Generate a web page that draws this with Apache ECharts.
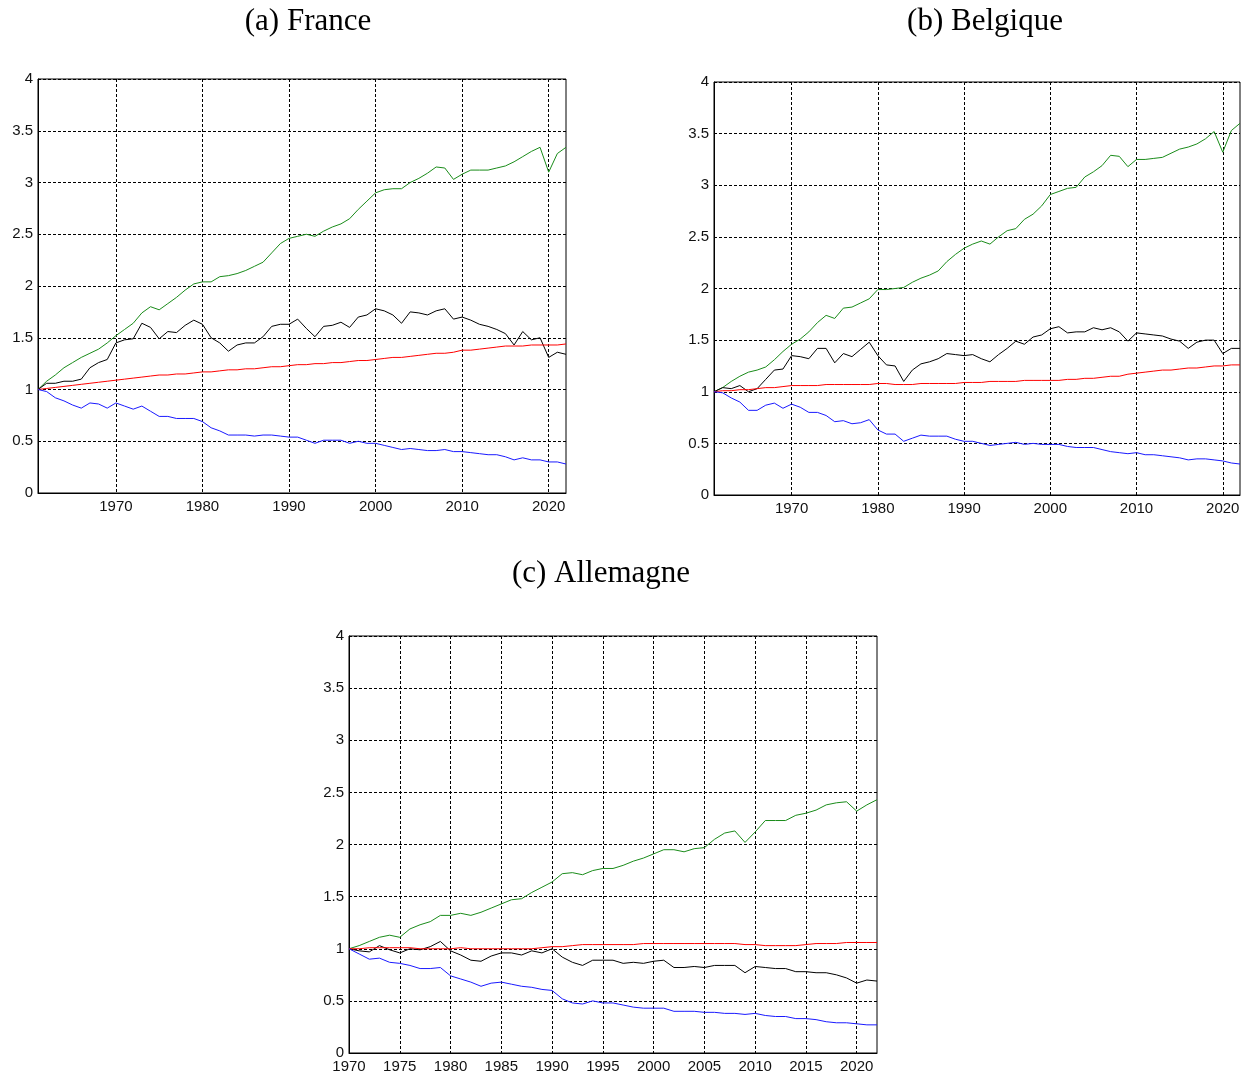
<!DOCTYPE html>
<html>
<head>
<meta charset="utf-8">
<script src="https://cdn.jsdelivr.net/npm/echarts@6/dist/echarts.min.js"></script>
<style>
html,body{margin:0;padding:0;background:#fff;}
#main{width:1246px;height:1074px;}
</style>
</head>
<body>
<div id="main"></div>
<script>
// ---------- Data ----------
function yearRange(a, b) { var r = []; for (var y = a; y <= b; y++) r.push(String(y)); return r; }
var yearsFR = yearRange(1961, 2022);
var yearsBE = yearRange(1961, 2022);
var yearsDE = yearRange(1970, 2022);

var yTicks = ['0', '0.5', '1', '1.5', '2', '2.5', '3', '3.5', '4'];

var titles = ['(a) France', '(b) Belgique', '(c) Allemagne'];

// France
var frGreen = [1.00,1.08,1.14,1.21,1.26,1.31,1.35,1.39,1.45,1.52,
  1.58,1.64,1.74,1.80,1.77,1.83,1.89,1.96,2.02,2.04,
  2.04,2.09,2.10,2.12,2.15,2.19,2.23,2.32,2.41,2.46,
  2.48,2.50,2.48,2.53,2.57,2.60,2.65,2.74,2.82,2.90,
  2.93,2.94,2.94,3.00,3.04,3.09,3.15,3.14,3.03,3.08,
  3.12,3.12,3.12,3.14,3.16,3.20,3.25,3.30,3.34,3.10,
  3.28,3.34];
var frBlack = [1.00,1.06,1.06,1.08,1.08,1.10,1.21,1.26,1.29,1.45,
  1.48,1.49,1.64,1.60,1.49,1.56,1.55,1.62,1.67,1.63,
  1.50,1.45,1.37,1.43,1.45,1.45,1.51,1.61,1.63,1.63,
  1.68,1.59,1.51,1.61,1.62,1.65,1.60,1.70,1.72,1.78,
  1.76,1.72,1.64,1.75,1.74,1.72,1.76,1.78,1.68,1.70,
  1.67,1.63,1.61,1.58,1.54,1.43,1.56,1.48,1.50,1.31,
  1.36,1.34];
var frRed = [1.00,1.01,1.02,1.03,1.04,1.05,1.06,1.07,1.08,1.09,
  1.10,1.11,1.12,1.13,1.14,1.14,1.15,1.15,1.16,1.17,
  1.17,1.18,1.19,1.19,1.20,1.20,1.21,1.22,1.22,1.23,
  1.24,1.24,1.25,1.25,1.26,1.26,1.27,1.28,1.28,1.29,
  1.30,1.31,1.31,1.32,1.33,1.34,1.35,1.35,1.36,1.38,
  1.38,1.39,1.40,1.41,1.42,1.42,1.42,1.43,1.43,1.43,
  1.43,1.44];
var frBlue = [1.00,0.98,0.92,0.89,0.85,0.82,0.87,0.86,0.82,0.87,
  0.84,0.81,0.84,0.79,0.74,0.74,0.72,0.72,0.72,0.69,
  0.63,0.60,0.56,0.56,0.56,0.55,0.56,0.56,0.55,0.54,
  0.54,0.51,0.48,0.51,0.51,0.51,0.48,0.50,0.48,0.48,
  0.46,0.44,0.42,0.43,0.42,0.41,0.41,0.42,0.40,0.40,
  0.39,0.38,0.37,0.37,0.35,0.32,0.34,0.32,0.32,0.30,
  0.30,0.28];

// Belgique
var beGreen = [1.00,1.04,1.10,1.15,1.19,1.21,1.24,1.31,1.39,1.46,
  1.51,1.58,1.67,1.74,1.71,1.81,1.82,1.86,1.90,1.99,
  1.99,2.00,2.01,2.06,2.10,2.13,2.17,2.26,2.33,2.39,
  2.43,2.46,2.43,2.50,2.56,2.58,2.67,2.72,2.80,2.91,
  2.94,2.97,2.98,3.08,3.13,3.19,3.29,3.28,3.18,3.25,
  3.25,3.26,3.27,3.31,3.35,3.37,3.40,3.45,3.52,3.32,
  3.53,3.60];
var beBlack = [1.00,1.04,1.03,1.06,1.00,1.03,1.12,1.21,1.22,1.35,
  1.34,1.32,1.42,1.42,1.28,1.37,1.34,1.41,1.48,1.35,
  1.26,1.25,1.10,1.21,1.27,1.29,1.32,1.37,1.36,1.35,
  1.36,1.32,1.29,1.36,1.42,1.49,1.46,1.53,1.55,1.61,
  1.63,1.57,1.58,1.58,1.62,1.60,1.62,1.58,1.49,1.57,
  1.56,1.55,1.54,1.51,1.49,1.42,1.48,1.50,1.50,1.37,
  1.42,1.42];
var beRed = [1.00,1.01,1.01,1.02,1.02,1.03,1.04,1.04,1.05,1.06,
  1.06,1.06,1.06,1.07,1.07,1.07,1.07,1.07,1.07,1.08,
  1.08,1.07,1.07,1.07,1.08,1.08,1.08,1.08,1.08,1.09,
  1.09,1.09,1.10,1.10,1.10,1.10,1.11,1.11,1.11,1.11,
  1.11,1.12,1.12,1.13,1.13,1.14,1.15,1.15,1.17,1.18,
  1.19,1.20,1.21,1.21,1.22,1.23,1.23,1.24,1.25,1.25,
  1.26,1.26];
var beBlue = [1.00,0.99,0.94,0.90,0.82,0.82,0.87,0.89,0.84,0.88,
  0.85,0.80,0.80,0.77,0.71,0.72,0.69,0.70,0.73,0.63,
  0.59,0.59,0.52,0.55,0.58,0.57,0.57,0.57,0.54,0.52,
  0.52,0.50,0.48,0.49,0.50,0.51,0.49,0.50,0.49,0.49,
  0.49,0.47,0.46,0.46,0.46,0.44,0.42,0.41,0.40,0.41,
  0.39,0.39,0.38,0.37,0.36,0.34,0.35,0.35,0.34,0.33,
  0.31,0.30];

// Allemagne
var deGreen = [1.00,1.03,1.07,1.11,1.13,1.11,1.19,1.23,1.26,1.32,
  1.32,1.34,1.32,1.35,1.39,1.43,1.47,1.48,1.54,1.59,
  1.64,1.72,1.73,1.71,1.75,1.77,1.77,1.80,1.84,1.87,
  1.91,1.95,1.95,1.93,1.96,1.97,2.05,2.11,2.13,2.02,
  2.12,2.23,2.23,2.23,2.28,2.30,2.33,2.38,2.40,2.41,
  2.32,2.38,2.43];
var deBlack = [1.00,0.98,0.97,1.03,0.99,0.96,1.00,0.99,1.02,1.07,
  0.98,0.94,0.89,0.88,0.93,0.96,0.96,0.94,0.98,0.96,
  1.00,0.92,0.87,0.84,0.89,0.89,0.89,0.86,0.87,0.86,
  0.88,0.89,0.82,0.82,0.83,0.82,0.84,0.84,0.84,0.77,
  0.83,0.82,0.81,0.81,0.78,0.78,0.77,0.77,0.75,0.72,
  0.67,0.70,0.69];
var deRed = [1.00,1.00,1.01,1.01,1.01,1.01,1.01,1.00,1.00,1.00,
  1.00,1.01,1.00,1.00,1.00,1.00,1.00,1.00,1.00,1.01,
  1.02,1.02,1.03,1.04,1.04,1.04,1.04,1.04,1.04,1.05,
  1.05,1.05,1.05,1.05,1.05,1.05,1.05,1.05,1.05,1.04,
  1.04,1.03,1.03,1.03,1.03,1.04,1.05,1.05,1.05,1.06,
  1.06,1.06,1.06];
var deBlue = [1.00,0.95,0.90,0.91,0.87,0.86,0.84,0.81,0.81,0.82,
  0.74,0.71,0.68,0.64,0.67,0.68,0.66,0.64,0.63,0.61,
  0.60,0.52,0.48,0.47,0.50,0.48,0.48,0.46,0.44,0.43,
  0.43,0.43,0.40,0.40,0.40,0.39,0.39,0.38,0.38,0.37,
  0.38,0.36,0.35,0.35,0.33,0.33,0.32,0.30,0.29,0.29,
  0.28,0.27,0.27];

// ---------- Chart ----------
var chart = echarts.init(document.getElementById('main'), null, {renderer: 'canvas'});

var panels = [
  {grid: {left: 38, top: 79, width: 528, height: 414}, years: yearsFR, step: 10,
   data: [frGreen, frBlack, frRed, frBlue]},
  {grid: {left: 714, top: 82, width: 526, height: 413}, years: yearsBE, step: 10,
   data: [beGreen, beBlack, beRed, beBlue]},
  {grid: {left: 349, top: 636, width: 528, height: 417}, years: yearsDE, step: 5,
   data: [deGreen, deBlack, deRed, deBlue]}
];
var colors = ['#1a8c1a', '#000000', '#ff0000', '#1a1aff'];
var dash = [3, 2];
var labelFont = {fontFamily: 'Liberation Sans', fontSize: 15, color: '#111'};

var grids = [], xAxes = [], yAxes = [], series = [];
panels.forEach(function (p, i) {
  grids.push(Object.assign({show: true, borderColor: '#000', borderWidth: 1, backgroundColor: '#fff', containLabel: false}, p.grid));
  var step = p.step;
  var sel = function (idx, val) { return (+val) % step === 0; };
  xAxes.push({
    type: 'category', gridIndex: i, data: p.years, boundaryGap: false,
    axisLine: {show: true, lineStyle: {color: '#000', width: 1}},
    axisTick: {show: false},
    axisLabel: Object.assign({interval: sel, margin: 6}, labelFont),
    splitLine: {show: true, interval: sel, lineStyle: {color: '#000', width: 1, type: dash}}
  });
  yAxes.push({
    type: 'value', gridIndex: i, min: 0, max: 4, interval: 0.5,
    axisLine: {show: true, lineStyle: {color: '#000', width: 1}},
    axisTick: {show: false},
    axisLabel: Object.assign({margin: 5, formatter: function (v) {
      var idx = Math.round(v / 0.5); return yTicks[idx] !== undefined ? yTicks[idx] : String(v);
    }}, labelFont),
    splitLine: {show: true, lineStyle: {color: '#000', width: 1, type: dash}}
  });
  p.data.forEach(function (d, k) {
    series.push({
      type: 'line', xAxisIndex: i, yAxisIndex: i, data: d,
      showSymbol: false, symbol: 'none', smooth: false, animation: false,
      lineStyle: {color: colors[k], width: 1}, itemStyle: {color: colors[k]},
      z: 3
    });
  });
});

var titlePos = [[308, 22], [985, 22], [601, 574]];
var graphics = titles.map(function (t, i) {
  return {
    type: 'text', x: titlePos[i][0], y: titlePos[i][1],
    style: {text: t, fill: '#000', font: '31px "Liberation Serif"', textAlign: 'center', textVerticalAlign: 'middle'}
  };
});

chart.setOption({
  animation: false,
  backgroundColor: '#fff',
  grid: grids,
  xAxis: xAxes,
  yAxis: yAxes,
  series: series,
  graphic: graphics
});
</script>
</body>
</html>
